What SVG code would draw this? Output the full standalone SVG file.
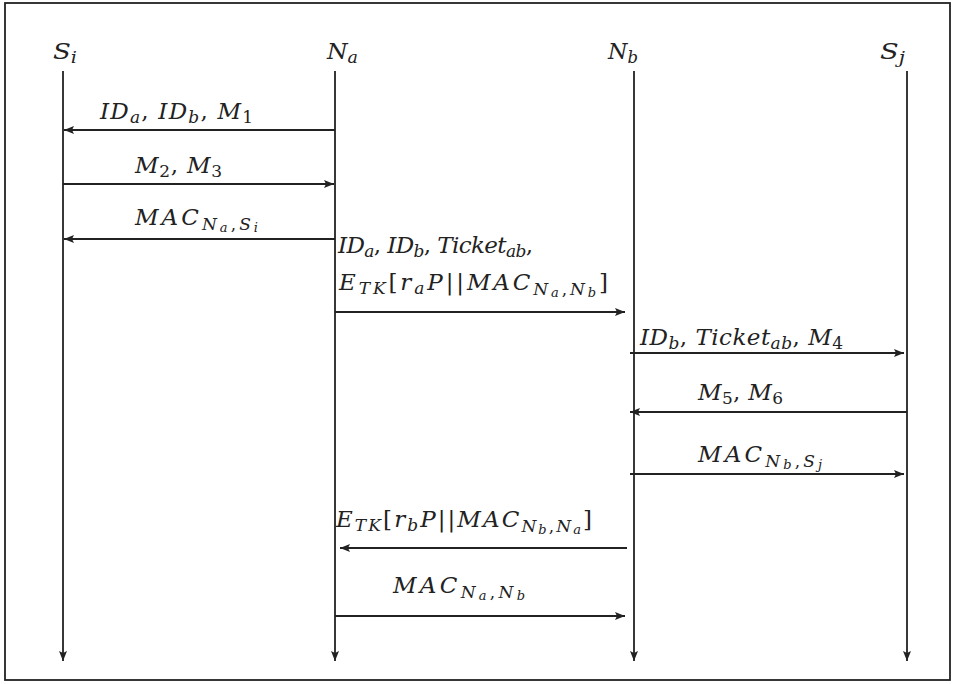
<svg xmlns="http://www.w3.org/2000/svg" width="956" height="684" viewBox="0 0 956 684">
  <style>
    .frame { fill: #fff; stroke: #222; stroke-width: 1.8; }
    .life { stroke: #222; stroke-width: 1.8; fill: none; }
    .msg { stroke: #222; stroke-width: 1.8; fill: none; }
    text { font-family: "DejaVu Serif", "Liberation Serif", serif; font-style: italic; font-size: 23px; fill: #222; }
    .sub { font-size: 17px; }
    .ss { font-size: 13px; }
    .up { font-style: normal; }
  </style>
  <defs>
    <marker id="head" viewBox="0 0 10 8" refX="10" refY="4" markerWidth="10" markerHeight="8" markerUnits="userSpaceOnUse" orient="auto">
      <path d="M0,0 L10,4 L0,8 L2,4 Z" fill="#222"/>
    </marker>
  </defs>

  <rect class="frame" x="5" y="3" width="945" height="677"/>

  <!-- participants with their lifelines -->
  <g id="Si">
    <text x="53" y="59" textLength="24" lengthAdjust="spacingAndGlyphs">S<tspan class="sub" dy="4">i</tspan></text>
    <line class="life" x1="63" y1="71" x2="63" y2="661" marker-end="url(#head)"/>
  </g>
  <g id="Na">
    <text x="327" y="59" textLength="31" lengthAdjust="spacingAndGlyphs">N<tspan class="sub" dy="4">a</tspan></text>
    <line class="life" x1="335" y1="71" x2="335" y2="661" marker-end="url(#head)"/>
  </g>
  <g id="Nb">
    <text x="608" y="59" textLength="30" lengthAdjust="spacingAndGlyphs">N<tspan class="sub" dy="4">b</tspan></text>
    <line class="life" x1="634" y1="71" x2="634" y2="661" marker-end="url(#head)"/>
  </g>
  <g id="Sj">
    <text x="880" y="59" textLength="25" lengthAdjust="spacingAndGlyphs">S<tspan class="sub" dy="4">j</tspan></text>
    <line class="life" x1="907" y1="71" x2="907" y2="661" marker-end="url(#head)"/>
  </g>

  <!-- messages -->
  <g id="messages">
    <line class="msg" x1="335" y1="130" x2="64" y2="130" marker-end="url(#head)"/>
    <line class="msg" x1="63" y1="184" x2="334" y2="184" marker-end="url(#head)"/>
    <line class="msg" x1="335" y1="239" x2="64" y2="239" marker-end="url(#head)"/>
    <line class="msg" x1="335" y1="312" x2="625" y2="312" marker-end="url(#head)"/>
    <line class="msg" x1="630" y1="353" x2="904" y2="353" marker-end="url(#head)"/>
    <line class="msg" x1="907" y1="412" x2="630" y2="412" marker-end="url(#head)"/>
    <line class="msg" x1="630" y1="474" x2="904" y2="474" marker-end="url(#head)"/>
    <line class="msg" x1="627" y1="548" x2="340" y2="548" marker-end="url(#head)"/>
    <line class="msg" x1="335" y1="616" x2="625" y2="616" marker-end="url(#head)"/>
  </g>

  <!-- message labels -->
  <g id="labels">
    <text x="100" y="119" textLength="153" lengthAdjust="spacing">ID<tspan class="sub" dy="4">a</tspan><tspan class="up" dy="-4">, </tspan>ID<tspan class="sub" dy="4">b</tspan><tspan class="up" dy="-4">, </tspan>M<tspan class="sub up" dy="4">1</tspan></text>
    <text x="135" y="173" textLength="87" lengthAdjust="spacing">M<tspan class="sub up" dy="4">2</tspan><tspan class="up" dy="-4">, </tspan>M<tspan class="sub up" dy="4">3</tspan></text>
    <text x="135" y="225" textLength="123" lengthAdjust="spacing">MAC<tspan class="sub" dy="5">N<tspan class="ss" dy="2">a</tspan><tspan class="up" dy="-2">,</tspan>S<tspan class="ss" dy="2">i</tspan></tspan></text>
    <text x="338" y="253" textLength="195" lengthAdjust="spacing">ID<tspan class="sub" dy="4">a</tspan><tspan class="up" dy="-4">, </tspan>ID<tspan class="sub" dy="4">b</tspan><tspan class="up" dy="-4">, </tspan>Ticket<tspan class="sub" dy="4">ab</tspan><tspan class="up" dy="-4">,</tspan></text>
    <text x="339" y="290" textLength="269" lengthAdjust="spacing">E<tspan class="sub" dy="4">TK</tspan><tspan class="up" dy="-4">[</tspan>r<tspan class="sub" dy="4">a</tspan><tspan dy="-4">P</tspan><tspan class="up">||</tspan>MAC<tspan class="sub" dy="5">N<tspan class="ss" dy="2">a</tspan><tspan class="up" dy="-2">,</tspan>N<tspan class="ss" dy="2">b</tspan></tspan><tspan class="up" dy="-7">]</tspan></text>
    <text x="640" y="345" textLength="203" lengthAdjust="spacing">ID<tspan class="sub" dy="4">b</tspan><tspan class="up" dy="-4">, </tspan>Ticket<tspan class="sub" dy="4">ab</tspan><tspan class="up" dy="-4">, </tspan>M<tspan class="sub up" dy="4">4</tspan></text>
    <text x="698" y="400" textLength="85" lengthAdjust="spacing">M<tspan class="sub up" dy="4">5</tspan><tspan class="up" dy="-4">, </tspan>M<tspan class="sub up" dy="4">6</tspan></text>
    <text x="698" y="462" textLength="124" lengthAdjust="spacing">MAC<tspan class="sub" dy="5">N<tspan class="ss" dy="2">b</tspan><tspan class="up" dy="-2">,</tspan>S<tspan class="ss" dy="2">j</tspan></tspan></text>
    <text x="336" y="527" textLength="256" lengthAdjust="spacing">E<tspan class="sub" dy="4">TK</tspan><tspan class="up" dy="-4">[</tspan>r<tspan class="sub" dy="4">b</tspan><tspan dy="-4">P</tspan><tspan class="up">||</tspan>MAC<tspan class="sub" dy="5">N<tspan class="ss" dy="2">b</tspan><tspan class="up" dy="-2">,</tspan>N<tspan class="ss" dy="2">a</tspan></tspan><tspan class="up" dy="-7">]</tspan></text>
    <text x="393" y="593" textLength="132" lengthAdjust="spacing">MAC<tspan class="sub" dy="5">N<tspan class="ss" dy="2">a</tspan><tspan class="up" dy="-2">,</tspan>N<tspan class="ss" dy="2">b</tspan></tspan></text>
  </g>
</svg>
